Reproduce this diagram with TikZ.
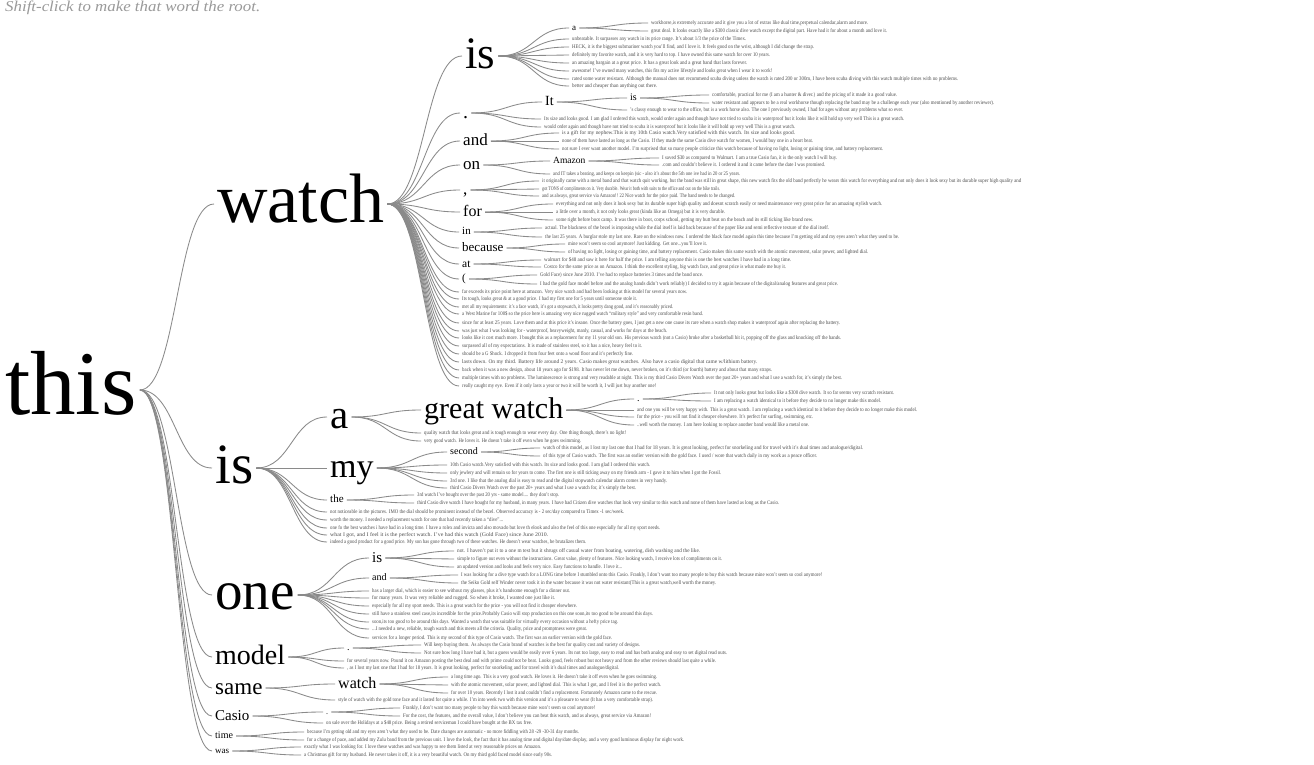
\documentclass[tikz,border=0pt]{standalone}
\usepackage{fontspec}
\usepackage{graphicx}
\setmainfont{Liberation Serif}
\usetikzlibrary{calc}
\definecolor{leafc}{HTML}{4E4E4E}
\definecolor{linkc}{HTML}{8A8A8A}
\definecolor{hintc}{HTML}{9A9A9A}
\tikzset{
 word/.style={anchor=base west, inner xsep=3pt, inner ysep=0pt, xshift=-3pt, text=black},
 leaf/.style={anchor=base west, inner xsep=3pt, inner ysep=0pt, xshift=-3pt, yshift=-1.5pt, text=leafc, font=\fontsize{5.5pt}{5.5pt}\selectfont},
 conn/.style={draw=linkc, line width=0.85pt},
}
\newcommand\lk[2]{\draw[conn] let \p1=(#1-r), \p2=(#2-l) in (\p1) .. controls ({0.5*\x1+0.5*\x2},\y1) and ({0.5*\x1+0.5*\x2},\y2) .. (\p2);}
\newcommand\wn[6]{\node[word, yshift={-0.27*#5pt}, font=\fontsize{#5pt}{#5pt}\selectfont] (#2) at (#3,#4) {#6};%
 \coordinate (#2-l) at ($(#2.base west)+(0pt,{0.27*#5pt})$);%
 \coordinate (#2-r) at ($(#2.base east)+(0pt,{0.27*#5pt})$);%
 \ifx\relax#1\relax\else\lk{#1}{#2}\fi}
\newcommand\lf[6]{\node[leaf] (#2) at (#3,#4) {\resizebox{\dimexpr #5pt-#3pt\relax}{\height}{#6}};%
 \coordinate (#2-l) at ($(#2.base west)+(0pt,1.5pt)$);%
 \lk{#1}{#2}}
\begin{document}
\begin{tikzpicture}[x=1pt,y=-1pt]
\fill[white] (0,0) rectangle (1314,765);
\useasboundingbox (0,0) rectangle (1314,765);
\node[anchor=base west, inner sep=0pt, text=hintc, font=\itshape\fontsize{15pt}{15pt}\selectfont] (hint) at (5,12) {\resizebox{255pt}{\height}{Shift-click to make that word the root.}};
% level 0 and 1
\wn{}{this}{5}{390}{91}{this}
\wn{this}{w}{217}{204}{70}{watch}
\wn{this}{i}{215}{468}{57}{is}
\wn{this}{o}{215}{595}{55}{one}
\wn{this}{m}{215}{657}{28}{model}
\wn{this}{s}{215}{688}{23}{same}
\wn{this}{c}{215}{716}{15}{Casio}
\wn{this}{t}{215}{736}{10}{time}
\wn{this}{v}{215}{751}{9}{was}
% watch
\wn{w}{wi}{465}{56}{45}{is}
\wn{w}{wd}{463}{113}{20}{.}
\wn{w}{wa}{463}{141}{17}{and}
\wn{w}{wo}{463}{165}{17}{on}
\wn{w}{wc}{463}{190}{17}{,}
\wn{w}{wf}{463}{212}{16}{for}
\wn{w}{wn}{462}{232}{11}{in}
\wn{w}{wb}{462}{248}{13}{because}
\wn{w}{wt}{462}{264}{11.5}{at}
\wn{w}{wp}{462}{279}{11}{(}
\lf{w}{w01}{462}{292}{687}{far exceeds its price point here at amazon. Very nice watch and had been looking at this model for several years now.}
\lf{w}{w02}{462}{299}{637}{Its tough, looks great \& at a good price. I had my first one for 5 years until someone stole it.}
\lf{w}{w03}{462}{307}{673}{met all my requirements: it's a face watch, it's got a stopwatch, it looks pretty dang good, and it's reasonably priced.}
\lf{w}{w04}{462}{314}{703}{a West Marine for 100\$ so the price here is amazing very nice rugged watch ``military style'' and very comfortable resin band.}
\lf{w}{w05}{462}{323}{840}{since for at least 25 years. Love them and at this price it's insane. Once the battery goes, I just get a new one cause its rare when a watch shop makes it waterproof again after replacing the battery.}
\lf{w}{w06}{462}{331}{667}{was just what I was looking for - waterproof, heavyweight, manly, casual, and works for days at the beach.}
\lf{w}{w07}{462}{338}{841}{looks like it cost much more. I bought this as a replacement for my 11 year old son. His previous watch (not a Casio) broke after a basketball hit it, popping off the glass and knocking off the hands.}
\lf{w}{w08}{462}{346}{642}{surpassed all of my expectations. It is made of stainless steel, so it has a nice, heavy feel to it.}
\lf{w}{w09}{462}{354}{633}{should be a G Shock. I dropped it from four feet onto a wood floor and it's perfectly fine.}
\lf{w}{w10}{462}{362}{757}{lasts down. On my third. Battery life around 2 years. Casio makes great watches. Also have a casio digital that came w/lithium battery.}
\lf{w}{w11}{462}{370}{772}{back when it was a new design, about 18 years ago for \$198. It has never let me down, never broken, on it's third (or fourth) battery and about that many straps.}
\lf{w}{w12}{462}{378}{842}{multiple times with no problems. The luminescence is strong and very readable at night. This is my third Casio Divers Watch over the past 20+ years and what I use a watch for, it's simply the best.}
\lf{w}{w13}{462}{386}{656}{really caught my eye. Even if it only lasts a year or two it will be worth it, I will just buy another one!}
% watch is
\wn{wi}{wia}{572}{28}{9}{a}
\lf{wia}{wia1}{651}{23}{868}{workhorse,is extremely accurate and it give you a lot of extras like dual time,perpetual calendar,alarm and more.}
\lf{wia}{wia2}{651}{31}{887}{great deal. It looks exactly like a \$300 classic dive watch except the digital part. Have had it for about a month and love it.}
\lf{wi}{wi1}{572}{39}{746}{unbeatable. It surpasses any watch in its price range. It's about 1/3 the price of the Timex.}
\lf{wi}{wi2}{572}{47}{814}{HECK, it is the biggest submariner watch you'll find, and I love it. It feels good on the wrist, although I did change the strap.}
\lf{wi}{wi3}{572}{55}{770}{definitely my favorite watch, and it is very hard to top. I have owned this same watch for over 10 years.}
\lf{wi}{wi4}{572}{63}{747}{an amazing bargain at a great price. It has a great look and a great band that lasts forever.}
\lf{wi}{wi5}{572}{71}{772}{awesome! I've owned many watches, this fits my active lifestyle and looks great when I wear it to work!}
\lf{wi}{wi6}{572}{79}{958}{rated some water resistant. Although the manual does not recommend scuba diving unless the watch is rated 200 or 300m, I have been scuba diving with this watch multiple times with no problems.}
\lf{wi}{wi7}{572}{86}{657}{better and cheaper than anything out there.}
% watch .
\wn{wd}{wdI}{545}{102}{14}{It}
\wn{wdI}{wdIi}{630}{98}{10}{is}
\lf{wdIi}{wdIi1}{712}{95}{897}{comfortable, practical for me (I am a hunter \& diver.) and the pricing of it made it a good value.}
\lf{wdIi}{wdIi2}{712}{103}{994}{water resistant and appears to be a real workhorse though replacing the band may be a challenge each year (also mentioned by another reviewer).}
\lf{wdI}{wdI1}{630}{110}{903}{'s classy enough to wear to the office, but is a work horse also. The one I previously owned, I had for ages without any problems what so ever.}
\lf{wd}{wd1}{544}{119}{904}{Its size and looks good. I am glad I ordered this watch, would order again and though have not tried to scuba it is waterproof but it looks like it will hold up very well This is a great watch.}
\lf{wd}{wd2}{544}{127}{795}{would order again and though have not tried to scuba it is waterproof but it looks like it will hold up very well This is a great watch.}
% watch and
\lf{wa}{wa1}{562}{133}{795}{is a gift for my nephew.This is my 10th Casio watch.Very satisfied with this watch. Its size and looks good.}
\lf{wa}{wa2}{562}{141}{813}{none of them have lasted as long as the Casio. If they made the same Casio dive watch for women, I would buy one in a heart beat.}
\lf{wa}{wa3}{562}{149}{883}{not sure I ever want another model. I'm surprised that so many people criticize this watch because of having no light, losing or gaining time, and battery replacement.}
% watch on
\wn{wo}{woA}{553}{161}{9.5}{Amazon}
\lf{woA}{woA1}{662}{158}{837}{I saved \$30 as compared to Walmart. I am a true Casio fan, it is the only watch I will buy.}
\lf{woA}{woA2}{662}{165}{825}{.com and couldn't believe it. I ordered it and it came before the date I was promised.}
\lf{wo}{wo1}{553}{174}{740}{and IT takes a beating, and keeps on keepin (sic - also it's about the 5th one ive had in 20 or 25 years.}
% watch ,
\lf{wc}{wc1}{542}{181}{1021}{it originally came with a metal band and that watch quit working, but the band was still in great shape, this new watch fits the old band perfectly he wears this watch for everything and not only does it look sexy but its durable super high quality and}
\lf{wc}{wc2}{542}{189}{720}{got TONS of compliments on it. Very durable. Wear it both with suits to the office and out on the bike trails.}
\lf{wc}{wc3}{542}{196}{735}{and as always, great service via Amazon!! 22 Nice watch for the price paid. The band needs to be changed.}
% watch for
\lf{wf}{wf1}{556}{204}{882}{everything and not only does it look sexy but its durable super high quality and doesnt scratch easily or need maintenance very great price for an amazing stylish watch.}
\lf{wf}{wf2}{556}{212}{725}{a little over a month, it not only looks great (kinda like an Omega) but it is very durable.}
\lf{wf}{wf3}{556}{220}{813}{some right before boot camp. It was there in boot, corps school, getting my butt beat on the beach and its still ticking like brand new.}
% watch in
\lf{wn}{wn1}{545}{228}{829}{actual. The blackness of the bezel is imposing while the dial itself is laid back because of the paper like and semi reflective texture of the dial itself.}
\lf{wn}{wn2}{545}{237}{899}{the last 25 years. A burglar stole my last one. Rare on the windows now. I ordered the black face model again this time because I'm getting old and my eyes aren't what they used to be.}
% watch because
\lf{wb}{wb1}{568}{244}{707}{mine won't seem so cool anymore! Just kidding. Get one...you'll love it.}
\lf{wb}{wb2}{568}{252}{868}{of having no light, losing or gaining time, and battery replacement. Casio makes this same watch with the atomic movement, solar power, and lighted dial.}
% watch at
\lf{wt}{wt1}{544}{260}{791}{walmart for \$48 and saw it here for half the price. I am telling anyone this is one the best watches I have had in a long time.}
\lf{wt}{wt2}{544}{267}{786}{Costco for the same price as on Amazon. I think the excellent styling, big watch face, and great price is what made me buy it.}
% watch (
\lf{wp}{wp1}{540}{275}{703}{Gold Face) since June 2010. I've had to replace batteries 3 times and the band once.}
\lf{wp}{wp2}{540}{284}{838}{I had the gold face model before and the analog hands didn't work reliably) I decided to try it again because of the digital/analog features and great price.}
% is
\wn{i}{ia}{330}{417}{41}{a}
\wn{i}{im}{330}{468}{34}{my}
\wn{i}{it}{330}{500}{11}{the}
\lf{i}{i1}{330}{512}{624}{not noticeable in the pictures. IMO the dial should be prominent instead of the bezel. Observed accuracy is - 2 sec/day compared to Timex -1 sec/week.}
\lf{i}{i2}{330}{520}{503}{worth the money. I needed a replacement watch for one that had recently taken a ``dive''...}
\lf{i}{i3}{330}{528}{660}{one fo the best watches i have had in a long time. I have a rolex and invicta and also movado but love th elook and also the feel of this one especially for all my sport needs.}
\lf{i}{i4}{330}{535}{548}{what I got, and I feel it is the perfect watch. I've had this watch (Gold Face) since June 2010.}
\lf{i}{i5}{330}{542}{586}{indeed a good product for a good price. My son has gone through two of these watches. He doesn't wear watches, he brutalizes them.}
\wn{ia}{iag}{424}{410}{30}{great watch}
\lf{ia}{ia1}{424}{433}{626}{quality watch that looks great and is tough enough to wear every day. One thing though, there's no light!}
\lf{ia}{ia2}{424}{441}{581}{very good watch. He loves it. He doesn't take it off even when he goes swimming.}
\wn{iag}{iagd}{637}{399}{10}{.}
\lf{iagd}{iagd1}{714}{393}{894}{It not only looks great but looks like a \$300 dive watch. It so far seems very scratch resistant.}
\lf{iagd}{iagd2}{714}{401}{881}{I am replacing a watch identical to it before they decide to no longer make this model.}
\lf{iag}{iag1}{637}{410}{917}{and one you will be very happy with. This is a great watch. I am replacing a watch identical to it before they decide to no longer make this model.}
\lf{iag}{iag2}{637}{417}{813}{for the price - you will not find it cheaper elsewhere. It's perfect for surfing, swimming, etc.}
\lf{iag}{iag3}{637}{425}{809}{..well worth the money. I am here looking to replace another band would like a metal one.}
\wn{im}{ims}{450}{452}{10}{second}
\lf{ims}{ims1}{543}{448}{863}{watch of this model, as I lost my last one that I had for 18 years. It is great looking, perfect for snorkeling and for travel with it's dual times and analogue/digital.}
\lf{ims}{ims2}{543}{456}{817}{of this type of Casio watch. The first was an earlier version with the gold face. I used / wore that watch daily in my work as a peace officer.}
\lf{im}{im1}{450}{465}{650}{10th Casio watch.Very satisfied with this watch. Its size and looks good. I am glad I ordered this watch.}
\lf{im}{im2}{450}{473}{721}{only jewlery and will remain so for years to come. The first one is still ticking away on my friends arm - I gave it to him when I got the Fossil.}
\lf{im}{im3}{450}{481}{667}{3rd one. I like that the analog dial is easy to read and the digital stopwatch calendar alarm comes in very handy.}
\lf{im}{im4}{450}{488}{636}{third Casio Divers Watch over the past 20+ years and what I use a watch for, it's simply the best.}
\lf{it}{it1}{417}{495}{559}{3rd watch I've bought over the past 20 yrs - same model.... they don't stop.}
\lf{it}{it2}{417}{503}{779}{third Casio dive watch I have bought for my husband, in many years. I have had Citizen dive watches that look very similar to this watch and none of them have lasted as long as the Casio.}
% one
\wn{o}{oi}{372}{558}{15}{is}
\wn{o}{oa}{372}{578}{10}{and}
\lf{oi}{oi1}{457}{551}{700}{not. I haven't put it to a one m test but it shrugs off casual water from boating, watering, dish washing and the like.}
\lf{oi}{oi2}{457}{559}{722}{simple to figure out even without the instructions. Great value, plenty of features. Nice looking watch, I receive lots of compliments on it.}
\lf{oi}{oi3}{457}{567}{622}{an updated version and looks and feels very nice. Easy functions to handle. I love it...}
\lf{oa}{oa1}{461}{575}{822}{I was looking for a dive type watch for a LONG time before I stumbled onto this Casio. Frankly, I don't want too many people to buy this watch because mine won't seem so cool anymore!}
\lf{oa}{oa2}{461}{583}{716}{the Seiko Gold self Winder never took it in the water because it was not water resistant(This is a great watch,well worth the money.}
\lf{o}{o1}{372}{591}{570}{has a larger dial, which is easier to see without my glasses, plus it's handsome enough for a dinner out.}
\lf{o}{o2}{372}{598}{555}{for many years. It was very reliable and rugged. So when it broke, I wanted one just like it.}
\lf{o}{o3}{372}{606}{577}{especially for all my sport needs. This is a great watch for the price - you will not find it cheaper elsewhere.}
\lf{o}{o4}{372}{614}{653}{still have a stainless steel case,its incredible for the price.Probably Casio will stop production on this one soon,its too good to be around this days.}
\lf{o}{o5}{372}{622}{618}{soon,its too good to be around this days. Wanted a watch that was suitable for virtually every occasion without a hefty price tag.}
\lf{o}{o6}{372}{629}{587}{...I needed a new, reliable, tough watch and this meets all the criteria. Quality, price and promptness were great.}
\lf{o}{o7}{372}{638}{612}{services for a longer period. This is my second of this type of Casio watch. The first was an earlier version with the gold face.}
% model
\wn{m}{md}{347}{648}{10}{.}
\lf{md}{md1}{424}{645}{640}{Will keep buying them. As always the Casio brand of watches is the best for quality cost and variety of designs.}
\lf{md}{md2}{424}{653}{727}{Not sure how long I have had it, but a guess would be easily over 6 years. Its not too large, easy to read and has both analog and easy to set digital read outs.}
\lf{m}{m1}{347}{661}{716}{for several years now. Pound it on Amazon posting the best deal and with prime could not be beat. Looks good, feels robust but not heavy and from the other reviews should last quite a while.}
\lf{m}{m2}{347}{668}{619}{, as I lost my last one that I had for 18 years. It is great looking, perfect for snorkeling and for travel with it's dual times and analogue/digital.}
% same
\wn{s}{sw}{338}{684}{16}{watch}
\lf{sw}{sw1}{451}{677}{657}{a long time ago. This is a very good watch. He loves it. He doesn't take it off even when he goes swimming.}
\lf{sw}{sw2}{451}{685}{661}{with the atomic movement, solar power, and lighted dial. This is what I got, and I feel it is the perfect watch.}
\lf{sw}{sw3}{451}{693}{657}{for over 10 years. Recently I lost it and couldn't find a replacement. Fortunately Amazon came to the rescue.}
\lf{s}{s1}{338}{700}{653}{style of watch with the gold tone face and it lasted for quite a while. I'm into week two with this version and it's a pleasure to wear (It has a very comfortable strap).}
% Casio
\wn{c}{cd}{326}{712}{8}{.}
\lf{cd}{cd1}{403}{708}{595}{Frankly, I don't want too many people to buy this watch because mine won't seem so cool anymore!}
\lf{cd}{cd2}{403}{716}{651}{For the cost, the features, and the overall value, I don't believe you can beat this watch, and as always, great service via Amazon!}
\lf{c}{c1}{326}{723}{532}{on sale over the Holidays at a \$48 price. Being a retired serviceman I could have bought at the BX tax free.}
% time
\lf{t}{t1}{307}{732}{579}{because I'm getting old and my eyes aren't what they used to be. Date changes are automatic - no more fiddling with 28 -29 -30-31 day months.}
\lf{t}{t2}{307}{740}{684}{for a change of pace, and added my Zulu band from the previous unit. I love the look, the fact that it has analog time and digital day/date display, and a very good luminous display for night work.}
% was
\lf{v}{v1}{304}{747}{541}{exactly what I was looking for. I love these watches and was happy to see them listed at very reasonable prices on Amazon.}
\lf{v}{v2}{304}{755}{552}{a Christmas gift for my husband. He never takes it off, it is a very beautiful watch. On my third gold faced model since early 90s.}
\end{tikzpicture}
\end{document}
